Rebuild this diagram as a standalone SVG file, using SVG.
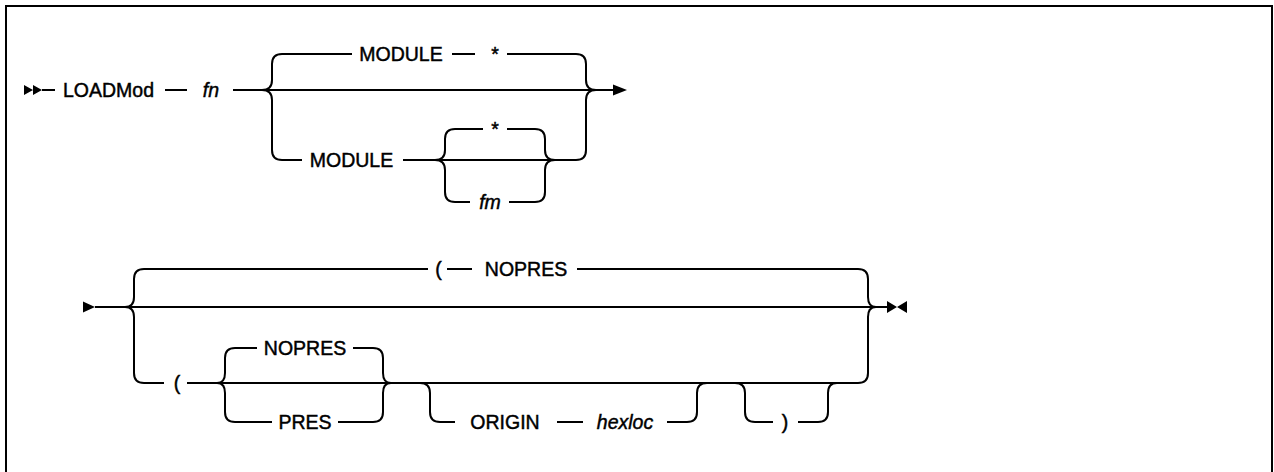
<svg xmlns="http://www.w3.org/2000/svg" width="1274" height="472" viewBox="0 0 1274 472">
<style>
.ln{fill:none;stroke:#000;stroke-width:2;stroke-linecap:butt}
.ar{fill:#000;stroke:none}
text{font-family:"Liberation Sans",Arial,sans-serif;font-size:19.5px;fill:#000;stroke:#000;stroke-width:0.45px;text-anchor:middle}
.it{font-style:italic}
</style>
<rect x="6" y="6" width="1266" height="472" fill="#fff" stroke="#000" stroke-width="2"/>
<g id="connectors">
<!-- line 1 -->
<path class="ln" d="M42 90 H55 M165 90 H187 M233 90 H596 H614"/>
<path class="ln" d="M262 90 Q272 90 272 80 V64 Q272 54 282 54 H352 M452 54 H475 M507 54 H576 Q586 54 586 64 V80 Q586 90 596 90"/>
<path class="ln" d="M262 90 Q272 90 272 100 V150 Q272 160 282 160 H302 M403 160 H576 Q586 160 586 150 V100 Q586 90 596 90"/>
<path class="ln" d="M435 160 Q445 160 445 150 V139 Q445 129 455 129 H483 M507 129 H535 Q545 129 545 139 V150 Q545 160 555 160"/>
<path class="ln" d="M435 160 Q445 160 445 170 V192 Q445 202 455 202 H470 M509 202 H535 Q545 202 545 192 V170 Q545 160 555 160"/>
<!-- line 2 -->
<path class="ln" d="M95 307 H888"/>
<path class="ln" d="M125 307 Q134 307 134 297 V279 Q134 269 144 269 H428 M447 269 H472 M577 269 H858 Q868 269 868 279 V297 Q868 307 876 307"/>
<path class="ln" d="M125 307 Q134 307 134 317 V373 Q134 383 144 383 H164 M187 383 H858 Q868 383 868 373 V317 Q868 307 876 307"/>
<path class="ln" d="M217 383 Q225 383 225 373 V358 Q225 348 235 348 H257 M353 348 H373 Q383 348 383 358 V373 Q383 383 391 383"/>
<path class="ln" d="M217 383 Q225 383 225 393 V412 Q225 422 235 422 H272 M338 422 H373 Q383 422 383 412 V393 Q383 383 391 383"/>
<path class="ln" d="M420 383 Q430 383 430 393 V412 Q430 422 440 422 H455 M557 422 H583 M667 422 H687 Q697 422 697 412 V393 Q697 383 707 383"/>
<path class="ln" d="M735 383 Q745 383 745 393 V412 Q745 422 755 422 H773 M798 422 H818 Q828 422 828 412 V393 Q828 383 837 383"/>
<!-- arrowheads -->
<path class="ar" d="M24 85 L33 90 L24 95 Z M33 85 L42 90 L33 95 Z"/>
<path class="ar" d="M613 84.5 L627 90 L613 95.5 Z"/>
<path class="ar" d="M83 301.5 L95 307 L83 312.5 Z"/>
<path class="ar" d="M887 301 L897 307 L887 313 Z M907 301 L897 307 L907 313 Z"/>
</g>
<g id="loadmod"><text x="108.5" y="97">LOADMod</text></g>
<g id="fn"><text class="it" x="211" y="97">fn</text></g>
<g id="module-default"><text x="401" y="61">MODULE</text><text x="495" y="61">*</text></g>
<g id="module"><text x="351.5" y="167">MODULE</text></g>
<g id="star"><text x="495" y="136">*</text></g>
<g id="fm"><text class="it" x="490" y="209">fm</text></g>
<g id="paren-nopres"><text x="438.5" y="276">(</text><text x="526" y="276">NOPRES</text></g>
<g id="paren"><text x="177" y="390">(</text></g>
<g id="nopres"><text x="305" y="355">NOPRES</text></g>
<g id="pres"><text x="305" y="429">PRES</text></g>
<g id="origin"><text x="505" y="429">ORIGIN</text></g>
<g id="hexloc"><text class="it" x="625" y="429">hexloc</text></g>
<g id="rparen"><text x="785" y="429">)</text></g>
</svg>
